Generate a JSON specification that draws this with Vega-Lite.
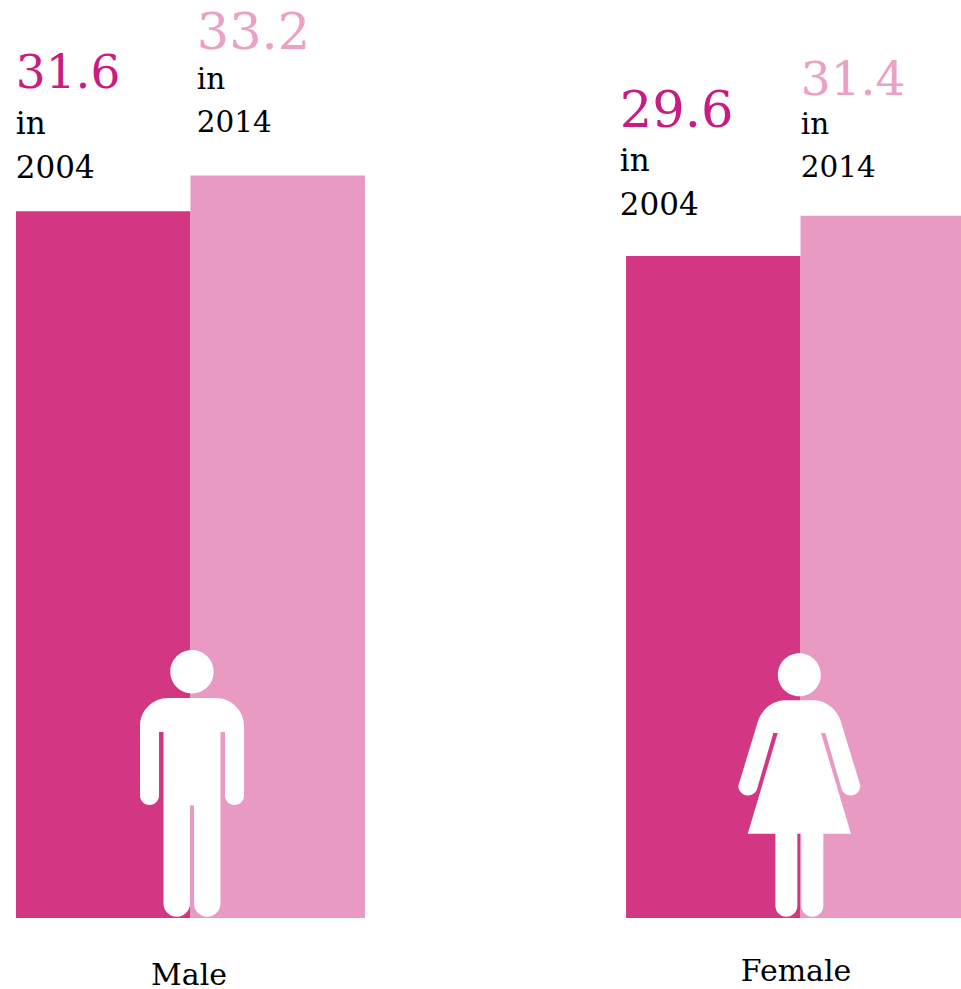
{
  "$schema": "https://vega.github.io/schema/vega-lite/v6.json",
  "width": 961,
  "height": 989,
  "padding": 0,
  "autosize": {"type": "none"},
  "background": "white",
  "view": {"stroke": null},
  "data": {"values": [
    {"gender": "Male", "year": "2004", "value": 31.6},
    {"gender": "Male", "year": "2014", "value": 33.2},
    {"gender": "Female", "year": "2004", "value": 29.6},
    {"gender": "Female", "year": "2014", "value": 31.4}
  ]},
  "encoding": {
    "x": {"field": "gender", "type": "nominal", "axis": null, "sort": ["Male", "Female"],
      "scale": {"domain": ["Male", "Female"], "range": [16, 975], "paddingInner": 0.428, "paddingOuter": 0}},
    "xOffset": {"field": "year", "type": "nominal", "sort": ["2004", "2014"], "scale": {"domain": ["2004", "2014"]}},
    "y": {"field": "value", "type": "quantitative", "axis": null,
      "scale": {"domain": [0, 41.05], "range": [918, 0]}}
  },
  "layer": [
    {"mark": {"type": "bar"},
     "encoding": {
       "y2": {"datum": 0},
       "color": {"field": "year", "type": "nominal", "legend": null,
         "scale": {"domain": ["2004", "2014"], "range": ["#D33682", "#E99AC3"]}}
     }},
    {"transform": [{"filter": "datum.gender === 'Male' && datum.year === '2004'"}],
     "layer": [
       {"mark": {"type": "text", "align": "left", "baseline": "alphabetic", "font": "DejaVu Serif", "fontSize": 47, "fill": "#C91C80", "dx": -87.5, "dy": -123},
        "encoding": {"text": {"field": "value", "type": "quantitative", "format": ".1f"}}},
       {"mark": {"type": "text", "align": "left", "baseline": "alphabetic", "font": "DejaVu Serif", "fontSize": 31, "fill": "#000000", "dx": -87.5, "dy": -77.5, "lineHeight": 44, "text": ["in", "2004"]}}
     ]},
    {"transform": [{"filter": "datum.gender === 'Male' && datum.year === '2014'"}],
     "layer": [
       {"mark": {"type": "text", "align": "left", "baseline": "alphabetic", "font": "DejaVu Serif", "fontSize": 51, "fill": "#EDA0C5", "dx": -81, "dy": -127},
        "encoding": {"text": {"field": "value", "type": "quantitative", "format": ".1f"}}},
       {"mark": {"type": "text", "align": "left", "baseline": "alphabetic", "font": "DejaVu Serif", "fontSize": 29.5, "fill": "#000000", "dx": -81, "dy": -86.5, "lineHeight": 43, "text": ["in", "2014"]}}
     ]},
    {"transform": [{"filter": "datum.gender === 'Female' && datum.year === '2004'"}],
     "layer": [
       {"mark": {"type": "text", "align": "left", "baseline": "alphabetic", "font": "DejaVu Serif", "fontSize": 51, "fill": "#C91C80", "dx": -93.5, "dy": -129},
        "encoding": {"text": {"field": "value", "type": "quantitative", "format": ".1f"}}},
       {"mark": {"type": "text", "align": "left", "baseline": "alphabetic", "font": "DejaVu Serif", "fontSize": 31, "fill": "#000000", "dx": -93.5, "dy": -85, "lineHeight": 44, "text": ["in", "2004"]}}
     ]},
    {"transform": [{"filter": "datum.gender === 'Female' && datum.year === '2014'"}],
     "layer": [
       {"mark": {"type": "text", "align": "left", "baseline": "alphabetic", "font": "DejaVu Serif", "fontSize": 47, "fill": "#EDA0C5", "dx": -87, "dy": -121},
        "encoding": {"text": {"field": "value", "type": "quantitative", "format": ".1f"}}},
       {"mark": {"type": "text", "align": "left", "baseline": "alphabetic", "font": "DejaVu Serif", "fontSize": 29.5, "fill": "#000000", "dx": -87, "dy": -82, "lineHeight": 43, "text": ["in", "2014"]}}
     ]},
    {"transform": [{"filter": "datum.gender === 'Male' && datum.year === '2004'"}],
     "layer": [
       {"mark": {"type": "point", "filled": true, "fill": "#ffffff", "opacity": 1, "strokeWidth": 0, "size": 4,
          "shape": "M-22.5,-220H25.5A28,28 0 0 1 53.5,-192V-122.5A9.5,9.5 0 0 1 34.5,-122.5V-186H30V-14.5A13.25,13.25 0 0 1 3.5,-14.5V-112.5H-0.5V-14.5A13.25,13.25 0 0 1 -27,-14.5V-186H-31.5V-122.5A9.5,9.5 0 0 1 -50.5,-122.5V-192A28,28 0 0 1 -22.5,-220Z M-20.2,-246.3A21.7,21.7 0 1 1 23.2,-246.3A21.7,21.7 0 1 1 -20.2,-246.3Z"},
        "encoding": {"xOffset": {"value": 174.5}, "y": {"datum": 0}}},
       {"mark": {"type": "text", "align": "center", "baseline": "alphabetic", "font": "DejaVu Serif", "fontSize": 30, "fill": "#000000", "dx": -1.5, "dy": 67},
        "encoding": {"xOffset": {"value": 174.5}, "y": {"datum": 0}, "text": {"field": "gender", "type": "nominal"}}}
     ]},
    {"transform": [{"filter": "datum.gender === 'Female' && datum.year === '2004'"}],
     "layer": [
       {"mark": {"type": "point", "filled": true, "fill": "#ffffff", "opacity": 1, "strokeWidth": 0, "size": 4,
          "shape": "M-17.2,-217.7H14.8A30,30 0 0 1 39.8,-198L59.8,-132.3A9.7,9.7 0 0 1 41.4,-128L24.8,-185H20.4L50.4,-84.3H22.8V-12.3A11,11 0 0 1 0.8,-12.3V-84.3H-3.2V-12.3A11,11 0 0 1 -25.2,-12.3V-84.3H-52.8L-22.8,-185H-27.2L-43.8,-128A9.7,9.7 0 0 1 -62.2,-132.3L-42.2,-198A30,30 0 0 1 -17.2,-217.7Z M-22.7,-243.3A21.5,21.5 0 1 1 20.3,-243.3A21.5,21.5 0 1 1 -22.7,-243.3Z"},
        "encoding": {"xOffset": {"value": 174.5}, "y": {"datum": 0}}},
       {"mark": {"type": "text", "align": "center", "baseline": "alphabetic", "font": "DejaVu Serif", "fontSize": 30, "fill": "#000000", "dx": -4.5, "dy": 63},
        "encoding": {"xOffset": {"value": 174.5}, "y": {"datum": 0}, "text": {"field": "gender", "type": "nominal"}}}
     ]}
  ]
}
